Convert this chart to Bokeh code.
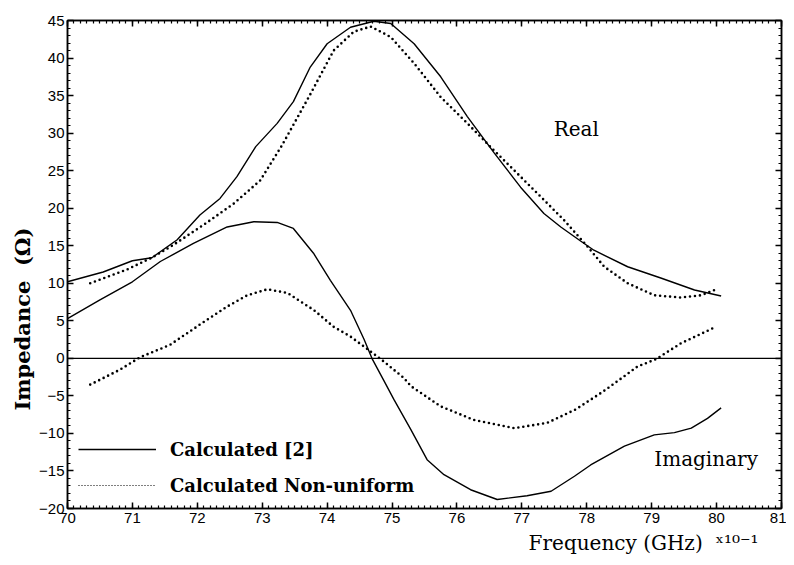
import math
from bokeh.plotting import figure
from bokeh.models import (Range1d, SingleIntervalTicker, LinearAxis, Span, Label,
                          Legend, LegendItem, Title)
from bokeh.embed import file_html
from bokeh.resources import INLINE

# ---- data (frequency in units of 0.1 GHz, impedance in ohms) ----
real_calc_f = [70.0, 70.55, 71.0, 71.3, 71.69, 72.04, 72.35, 72.61, 72.9, 73.23, 73.48,
               73.74, 74.0, 74.36, 74.72, 74.98, 75.34, 75.75, 76.16, 76.57, 76.98,
               77.34, 77.6, 77.91, 78.11, 78.63, 79.14, 79.66, 80.07]
real_calc_z = [10.2, 11.5, 13.0, 13.4, 15.8, 19.1, 21.3, 24.2, 28.2, 31.3, 34.2,
               38.8, 41.9, 44.1, 44.9, 44.6, 41.9, 37.5, 32.2, 27.4, 22.8,
               19.3, 17.5, 15.6, 14.4, 12.2, 10.7, 9.1, 8.3]

real_nu_f = [70.35, 70.91, 71.32, 71.63, 72.1, 72.56, 72.97, 73.3, 73.73, 74.1, 74.41,
             74.67, 74.98, 75.34, 75.75, 76.16, 76.57, 76.98, 77.34, 77.65, 78.01,
             78.27, 78.63, 79.04, 79.45, 79.76, 79.97]
real_nu_z = [10.0, 11.8, 13.5, 15.1, 17.8, 20.6, 23.7, 28.3, 35.0, 41.0, 43.5,
             44.2, 42.8, 39.3, 34.8, 31.3, 27.7, 24.2, 21.1, 18.4, 14.9,
             12.2, 10.0, 8.4, 8.1, 8.4, 9.1]

imag_calc_f = [70.0, 70.5, 71.0, 71.43, 71.94, 72.46, 72.87, 73.23, 73.48, 73.79, 74.05,
               74.36, 74.57, 74.69, 74.87, 75.03, 75.29, 75.54, 75.8, 76.21, 76.62,
               77.08, 77.45, 77.81, 78.06, 78.58, 79.04, 79.35, 79.61, 79.86, 80.07]
imag_calc_z = [5.3, 7.8, 10.2, 12.9, 15.3, 17.5, 18.2, 18.1, 17.3, 14.0, 10.4,
               6.4, 2.5, 0.0, -2.9, -5.5, -9.5, -13.5, -15.5, -17.5, -18.8,
               -18.3, -17.7, -15.7, -14.2, -11.7, -10.2, -9.9, -9.3, -8.0, -6.6]

imag_nu_f = [70.35, 70.81, 71.12, 71.58, 72.04, 72.46, 72.77, 73.08, 73.39, 73.8, 74.1,
             74.36, 74.64, 74.87, 75.18, 75.29, 75.75, 76.26, 76.88, 77.39, 77.83,
             78.22, 78.32, 78.78, 79.07, 79.45, 79.99]
imag_nu_z = [-3.5, -1.5, 0.15, 1.8, 4.5, 6.9, 8.4, 9.2, 8.7, 6.4, 4.2,
             2.9, 1.1, -0.4, -2.6, -3.7, -6.4, -8.2, -9.3, -8.6, -6.8,
             -4.6, -4.0, -1.1, -0.1, 2.0, 4.2]

legend_labels = ["Calculated [2]", "Calculated Non-uniform"]
x_major_step = 1
y_major_step = 5

SERIF = "DejaVu Serif"
SANS = "Liberation Sans"
NBSP = "\u00a0"

p = figure(width=786, height=560, x_range=Range1d(70, 81), y_range=Range1d(-20, 45),
           output_backend="svg", toolbar_location=None,
           min_border_left=67, min_border_right=5, min_border_top=20, min_border_bottom=52)
p.xgrid.visible = False
p.ygrid.visible = False
p.outline_line_color = "black"
p.outline_line_width = 1.5
p.background_fill_color = "white"
p.border_fill_color = "white"

def style_axis(ax, labels=True):
    ax.axis_line_color = "black"
    ax.axis_line_width = 1.5
    ax.major_tick_in = 6
    ax.major_tick_out = 0
    ax.minor_tick_in = 3
    ax.minor_tick_out = 0
    ax.major_tick_line_color = "black"
    ax.minor_tick_line_color = "black"
    ax.major_tick_line_width = 1.5
    ax.minor_tick_line_width = 1.2
    ax.major_label_text_font = SANS
    ax.major_label_text_font_size = "15px" if labels else "0px"
    ax.major_label_text_color = "black"
    ax.major_label_standoff = 4 if labels else 0

p.xaxis.ticker = SingleIntervalTicker(interval=x_major_step, num_minor_ticks=10)
p.yaxis.ticker = SingleIntervalTicker(interval=y_major_step, num_minor_ticks=5)
style_axis(p.xaxis[0])
style_axis(p.yaxis[0])
p.yaxis.major_label_standoff = 3
top = LinearAxis(ticker=SingleIntervalTicker(interval=x_major_step, num_minor_ticks=10))
right = LinearAxis(ticker=SingleIntervalTicker(interval=y_major_step, num_minor_ticks=5))
style_axis(top, labels=False)
style_axis(right, labels=False)
p.add_layout(top, "above")
p.add_layout(right, "right")

# axis titles (side-panel titles so they can sit off-centre)
p.add_layout(Title(text="Impedance" + NBSP * 2 + "(Ω)", text_font=SERIF,
                   text_font_size="21px", text_font_style="bold", text_color="black",
                   align="left", offset=98, standoff=4), "left")
p.add_layout(Title(text="Frequency (GHz)" + NBSP * 2 + "ˣ¹⁰⁻¹", text_font=SERIF,
                   text_font_size="20px", text_font_style="normal", text_color="black",
                   align="right", offset=23, standoff=6), "below")

# zero line
p.add_layout(Span(location=0, dimension="width", line_color="black", line_width=1.3))

# curves
p.line(real_calc_f, real_calc_z, line_color="black", line_width=1.4)
p.line(imag_calc_f, imag_calc_z, line_color="black", line_width=1.4)
p.line(real_nu_f, real_nu_z, line_color="black", line_width=2.6, line_dash="0 5",
       line_cap="round")
p.line(imag_nu_f, imag_nu_z, line_color="black", line_width=2.6, line_dash="0 5",
       line_cap="round")

# legend samples (renderers holding a single undefined point)
nan = float("nan")
r1 = p.line([nan], [nan], line_color="black", line_width=1.6)
r2 = p.line([nan], [nan], line_color="black", line_width=1.2, line_dash="1 2")
legend = Legend(items=[LegendItem(label=legend_labels[0], renderers=[r1]),
                       LegendItem(label=legend_labels[1], renderers=[r2])],
                location=(11, 5), background_fill_alpha=0, border_line_alpha=0,
                padding=0, margin=0, spacing=0, glyph_width=78, glyph_height=36,
                label_height=36, label_standoff=14, label_text_font=SERIF,
                label_text_font_size="18px", label_text_font_style="bold",
                label_text_color="black")
p.add_layout(legend)

# curve annotations
p.add_layout(Label(x=77.49, y=30.6, text="Real", text_font=SERIF, text_font_size="20px",
                   text_baseline="middle", text_color="black"))
p.add_layout(Label(x=79.04, y=-13.4, text="Imaginary", text_font=SERIF, text_font_size="20px",
                   text_baseline="middle", text_color="black"))

open("out.html", "w").write(file_html(p, INLINE))
